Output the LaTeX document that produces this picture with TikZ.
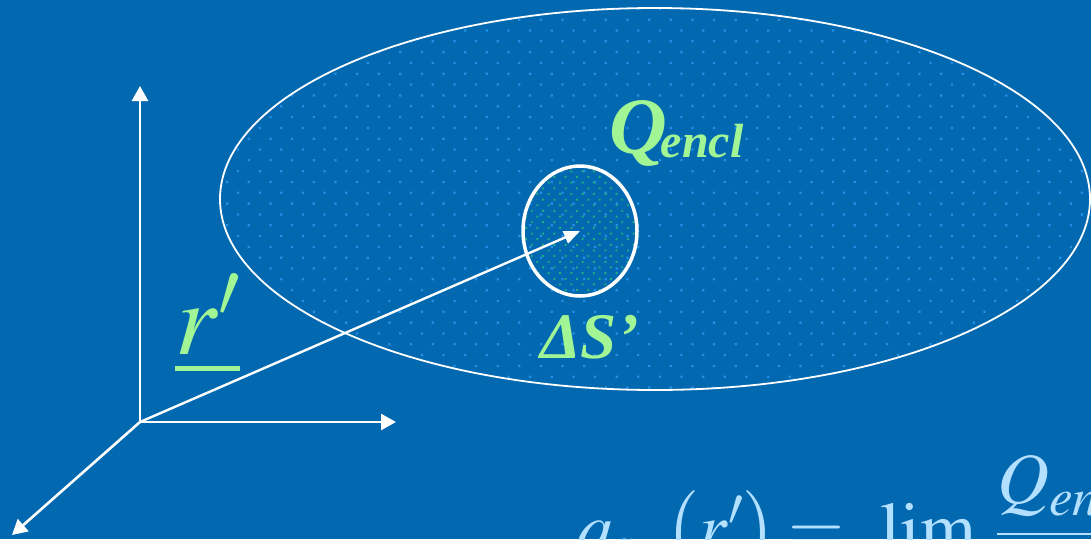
\documentclass[tikz,border=0pt]{standalone}
\usepackage{mathptmx}
\usepackage{amsmath}
\usepackage[no-math]{fontspec}
\newfontfamily\labelfont{Liberation Serif}
\definecolor{slideblue}{HTML}{0268B0}
\definecolor{dotblue}{HTML}{2290E6}
\definecolor{dotteal}{HTML}{22A882}
\definecolor{labelgreen}{HTML}{A2F595}
\definecolor{formulablue}{HTML}{B3E0FF}
\usetikzlibrary{arrows.meta, positioning, shapes.geometric, patterns.meta}

\begin{document}
\begin{tikzpicture}[x=1pt, y=-1pt,
    axis/.style={-{Triangle[length=15pt, width=16pt]}, line width=2.6pt, draw=white},
    vec/.style={-{Triangle[length=16pt, width=13pt]}, line width=2.4pt, draw=white},
    lbl/.style={text=#1, inner sep=0pt, anchor=base west},
]
    \useasboundingbox (0,0) rectangle (1091,539);
    \fill[slideblue] (0,0) rectangle (1091,539);
    \clip (0,0) rectangle (1091,539);

    % charged surface
    \fill[pattern={Dots[radius=1.6pt, distance=15.3pt, angle=45]}, pattern color=dotblue]
        (655,199) ellipse [x radius=435, y radius=191];
    \draw[white, line width=1.8pt] (655,199) ellipse [x radius=435, y radius=191];

    % small patch
    \node[ellipse, draw=white, line width=3.5pt, minimum width=114pt, minimum height=130pt,
          pattern={Dots[radius=1.4pt, distance=8pt, angle=45]}, pattern color=dotteal] (ds) at (580,231) {};

    % axes
    \coordinate (o) at (140,422);
    \coordinate (ytip) at (140,86);
    \coordinate (xtip) at (396,422);
    \coordinate (ztip) at (12,535);
    \draw[axis] (o) -- (ytip);
    \draw[axis] (o) -- (xtip);
    \draw[axis] (o) -- (ztip);
    \draw[vec] (o) -- (ds.center);

    % labels
    \node[lbl=labelgreen, font=\labelfont\bfseries\itshape] (qencl) at (609,153)
        {\fontsize{80}{80}\selectfont Q\hspace{-6pt}\raisebox{-4pt}{\fontsize{48}{48}\selectfont encl}};
    \node[lbl=labelgreen, font=\labelfont\bfseries\itshape] (dslbl) at (540,358)
        {\fontsize{65}{65}\selectfont ΔS’};
    \node[lbl=labelgreen] (rlbl) at (175,354)
        {\fontsize{104}{104}\selectfont$\underline{r'}$};

    % surface density
    \node[lbl=formulablue] (sigma) at (576,552)
        {\fontsize{72}{72}\selectfont$q_s\;\;\bigl(\underline{r}'\bigr)\mkern-1mu=\mkern-2mu\lim\limits_{\Delta S'\to 0}\mkern-4mu\dfrac{Q_{encl}}{\Delta S'}$};
\end{tikzpicture}
\end{document}
